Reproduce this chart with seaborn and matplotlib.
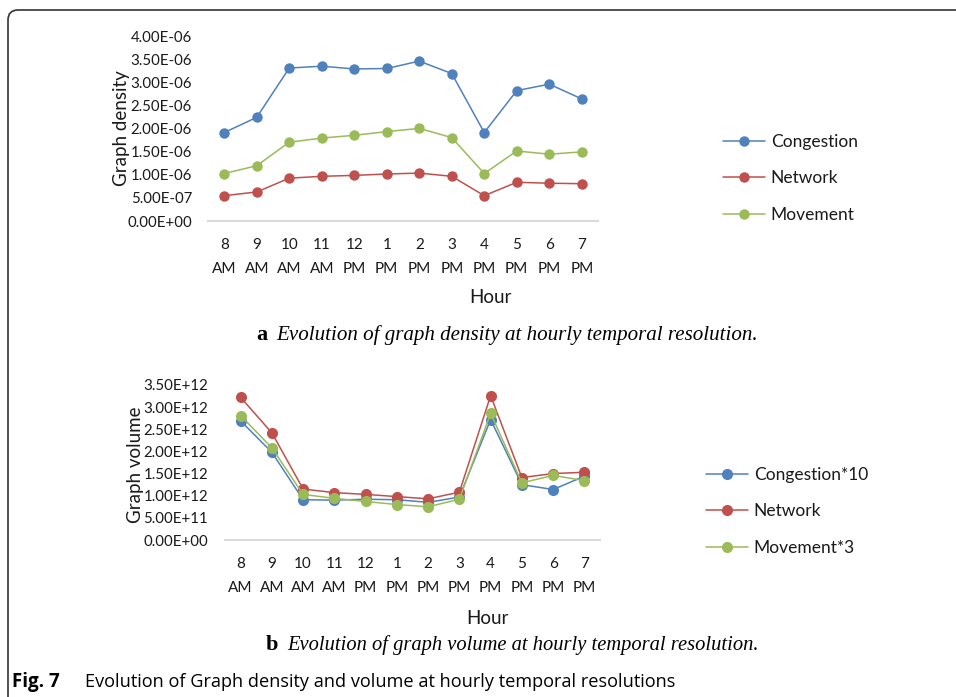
import numpy as np
import pandas as pd
import matplotlib
matplotlib.use("Agg")
import matplotlib.pyplot as plt
import seaborn as sns
from matplotlib.patches import FancyBboxPatch
from matplotlib.transforms import IdentityTransform
from matplotlib.ticker import FuncFormatter, FixedLocator

# ---------------- data ----------------
hours = ["8\nAM", "9\nAM", "10\nAM", "11\nAM", "12\nPM", "1\nPM",
         "2\nPM", "3\nPM", "4\nPM", "5\nPM", "6\nPM", "7\nPM"]

density_congestion = [1.92e-6, 2.25e-6, 3.32e-6, 3.36e-6, 3.30e-6, 3.31e-6,
                      3.47e-6, 3.20e-6, 1.92e-6, 2.83e-6, 2.97e-6, 2.65e-6]
density_network = [0.55e-6, 0.63e-6, 0.93e-6, 0.97e-6, 0.99e-6, 1.02e-6,
                   1.04e-6, 0.97e-6, 0.55e-6, 0.84e-6, 0.82e-6, 0.81e-6]
density_movement = [1.03e-6, 1.20e-6, 1.71e-6, 1.80e-6, 1.86e-6, 1.94e-6,
                    2.01e-6, 1.81e-6, 1.03e-6, 1.52e-6, 1.45e-6, 1.50e-6]

volume_congestion = [2.69e12, 1.98e12, 0.91e12, 0.90e12, 0.92e12, 0.91e12,
                     0.85e12, 0.97e12, 2.72e12, 1.25e12, 1.14e12, 1.44e12]
volume_network = [3.22e12, 2.42e12, 1.15e12, 1.07e12, 1.03e12, 0.98e12,
                  0.93e12, 1.08e12, 3.26e12, 1.41e12, 1.50e12, 1.53e12]
volume_movement = [2.81e12, 2.08e12, 1.03e12, 0.94e12, 0.87e12, 0.80e12,
                   0.75e12, 0.92e12, 2.86e12, 1.29e12, 1.46e12, 1.34e12]

density_names = ["Congestion", "Network", "Movement"]
volume_names = ["Congestion*10", "Network", "Movement*3"]
density_ticks = [0, 0.5e-6, 1.0e-6, 1.5e-6, 2.0e-6, 2.5e-6, 3.0e-6, 3.5e-6, 4.0e-6]
volume_ticks = [0, 0.5e12, 1.0e12, 1.5e12, 2.0e12, 2.5e12, 3.0e12, 3.5e12]

colors = ["#4F81BD", "#C0504D", "#9BBB59"]

# ---------------- style ----------------
sns.set_theme(style="white")
plt.rcParams["font.family"] = ["Lato", "DejaVu Sans"]
TXT = "#1a1a1a"

fig = plt.figure(figsize=(9.56, 6.97), dpi=100)
W, H = 956, 697


def fx(px):
    return px / W


def fy(py):
    return 1 - py / H


ax1 = fig.add_axes([fx(208), fy(221), fx(598) - fx(208), fy(36.7) - fy(221)])
ax2 = fig.add_axes([fx(225), fy(540), fx(600) - fx(225), fy(385) - fy(540)])


def long_df(names, series):
    return pd.DataFrame({
        "Hour": hours * len(series),
        "value": [v for s in series for v in s],
        "series": [n for n, s in zip(names, series) for _ in s],
    })


df1 = long_df(density_names, [density_congestion, density_network, density_movement])
df2 = long_df(volume_names, [volume_congestion, volume_network, volume_movement])

sns.lineplot(data=df1, x="Hour", y="value", hue="series", hue_order=density_names,
             palette=colors, marker="o", markersize=7.5, markeredgewidth=0,
             linewidth=1.1, sort=False, legend=False, ax=ax1)
sns.lineplot(data=df2, x="Hour", y="value", hue="series", hue_order=volume_names,
             palette=colors, marker="o", markersize=8, markeredgewidth=0,
             linewidth=1.1, sort=False, legend=False, ax=ax2)


def fmt(v, pos):
    return f"{v:.2E}"


for ax, ticks, ypad in [(ax1, density_ticks, 11.5), (ax2, volume_ticks, 12)]:
    ax.set_xlim(-0.5, len(hours) - 0.5)
    ax.set_ylim(ticks[0], ticks[-1])
    ax.yaxis.set_major_locator(FixedLocator(ticks))
    ax.yaxis.set_major_formatter(FuncFormatter(fmt))
    ax.set_xlabel("")
    ax.set_ylabel("")
    for s in ["top", "right", "left"]:
        ax.spines[s].set_visible(False)
    ax.spines["bottom"].set_color("#d9d9d9")
    ax.spines["bottom"].set_linewidth(1.5)
    ax.tick_params(axis="y", length=0, pad=ypad, labelsize=10.8, labelcolor=TXT)
    ax.tick_params(axis="x", length=0, pad=12.5, labelsize=11, labelcolor=TXT)
    ax.grid(False)
    ax.set_facecolor("none")
    for lab in ax.get_xticklabels():
        lab.set_linespacing(1.85)

# axis titles
fig.text(fx(121), fy(128), "Graph density", rotation=90, ha="center", va="center",
         fontsize=13.5, color=TXT)
fig.text(fx(136), fy(465), "Graph volume", rotation=90, ha="center", va="center",
         fontsize=13.5, color=TXT)
fig.text(fx(490), fy(298), "Hour", ha="center", va="center", fontsize=13.5, color=TXT)
fig.text(fx(487), fy(618), "Hour", ha="center", va="center", fontsize=13.5, color=TXT)

# legends
fig.legend(ax1.get_lines()[:3], density_names, loc="upper left",
           bbox_to_anchor=(fx(723), fy(134)), frameon=False, fontsize=12.5,
           handlelength=2.4, handletextpad=0.35, labelspacing=1.17,
           borderpad=0, borderaxespad=0, labelcolor=TXT)
fig.legend(ax2.get_lines()[:3], volume_names, loc="upper left",
           bbox_to_anchor=(fx(706), fy(467)), frameon=False, fontsize=12.5,
           handlelength=2.4, handletextpad=0.35, labelspacing=1.17,
           borderpad=0, borderaxespad=0, labelcolor=TXT)

# sub-captions
serif = ["Liberation Serif", "DejaVu Serif"]
fig.text(fx(256), fy(335), "a", fontsize=16, fontweight="bold", family=serif,
         ha="left", va="center", color="black")
fig.text(fx(276), fy(335), "Evolution of graph density at hourly temporal resolution.",
         fontsize=15.1, style="italic", family=serif, ha="left", va="center", color="black")
fig.text(fx(266), fy(645), "b", fontsize=16, fontweight="bold", family=serif,
         ha="left", va="center", color="black")
fig.text(fx(287), fy(645), "Evolution of graph volume at hourly temporal resolution.",
         fontsize=14.8, style="italic", family=serif, ha="left", va="center", color="black")

# figure caption
cap = ["Open Sans", "DejaVu Sans"]
fig.text(fx(12), fy(682), "Fig. 7", fontsize=13.5, fontweight="bold", family=cap,
         ha="left", va="center", color="black")
fig.text(fx(85), fy(682), "Evolution of Graph density and volume at hourly temporal resolutions",
         fontsize=13.1, family=cap, ha="left", va="center", color="black")

# frame
frame = FancyBboxPatch((8, -30), 1000, H - 10 + 30,
                       boxstyle="round,pad=0,rounding_size=10",
                       transform=IdentityTransform(), fill=False,
                       edgecolor="#333333", linewidth=1.2)
fig.patches.append(frame)

fig.savefig("out.png", dpi=100)
